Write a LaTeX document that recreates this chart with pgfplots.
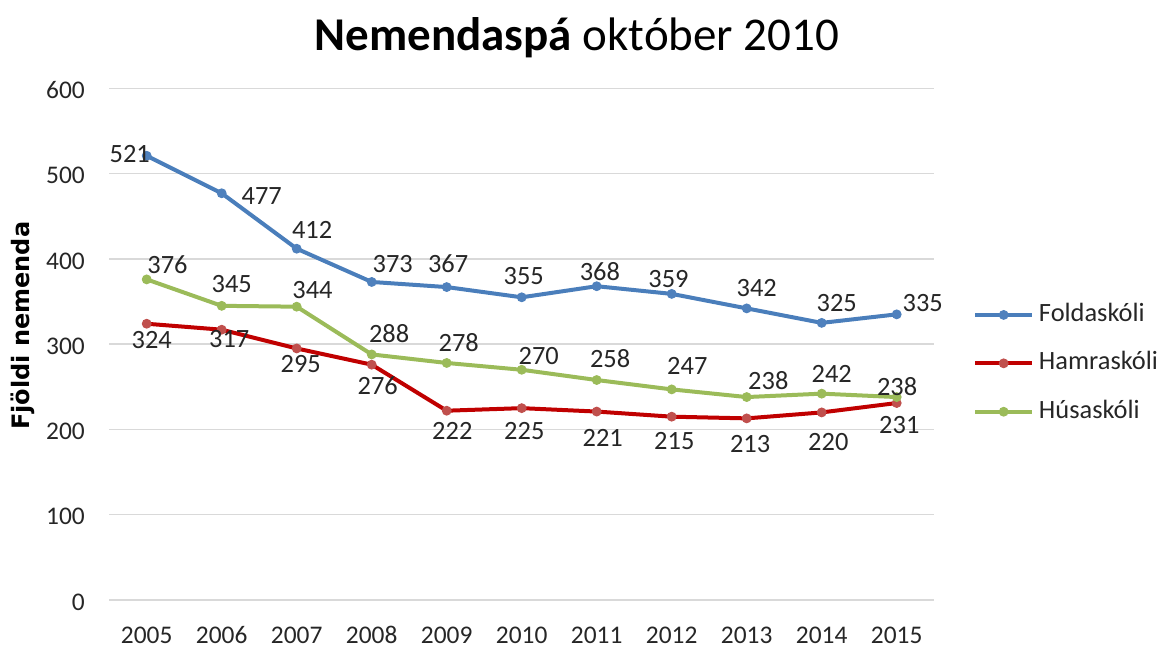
\documentclass[border=0pt]{standalone}
\usepackage{pgfplots}
\usepackage{pgfplotstable}
\pgfplotsset{compat=1.18}
\usepackage{fontspec}
\setmainfont{Carlito}
\newfontfamily\ylfont{DejaVu Sans}
\definecolor{cBlue}{HTML}{4A7EBB}
\definecolor{cBlueM}{HTML}{4F81BD}
\definecolor{cRed}{HTML}{C00000}
\definecolor{cRedM}{HTML}{C0504D}
\definecolor{cGreen}{HTML}{9BBB59}
\definecolor{gridgray}{HTML}{D9D9D9}
\definecolor{txt}{HTML}{262626}

\pgfplotstableread{
x y dx dy
2005 521 -8.5 1.1
2006 477 20 -1.5
2007 412 7.7 9.6
2008 373 10.5 9
2009 367 0.7 11.7
2010 355 1 10.6
2011 368 1.6 7.3
2012 359 -1.6 7.2
2013 342 5 10
2014 325 7.5 9.7
2015 335 13 5.5
}\fold

\pgfplotstableread{
x y dx dy
2005 324 2.5 -8.2
2006 317 3.8 -4.5
2007 295 2 -8
2008 276 3 -10.5
2009 222 2.8 -10
2010 225 1.3 -11.6
2011 221 3 -13.3
2012 215 1.3 -12
2013 213 1.7 -12.9
2014 220 3.3 -14.6
2015 231 1.3 -11.2
}\hamra

\pgfplotstableread{
x y dx dy
2005 376 10.4 7.5
2006 345 5 10.8
2007 344 7.9 8.3
2008 288 8.7 10.5
2009 278 6 10.3
2010 270 8.5 6.9
2011 258 6.7 10.8
2012 247 7.8 11.7
2013 238 10.8 8.4
2014 242 5 10
2015 238 0.2 5.2
}\husa

\begin{document}
\begin{tikzpicture}
\path[use as bounding box] (-54.6pt,-24pt) rectangle (526.4pt,300pt);
\begin{axis}[
  at={(0,0)}, anchor=south west,
  scale only axis, width=412.5pt, height=255.8pt,
  xmin=2004.5, xmax=2015.5, ymin=0, ymax=600,
  xtick={2005,2006,2007,2008,2009,2010,2011,2012,2013,2014,2015},
  xticklabels={2005,2006,2007,2008,2009,2010,2011,2012,2013,2014,2015},
  ytick={0,100,200,300,400,500,600},
  axis line style={draw=none},
  major tick length=0pt,
  ymajorgrids,
  grid style={color=gridgray, line width=0.75pt},
  tick label style={font=\fontsize{12.7}{15}\selectfont, text=txt},
  xticklabel style={anchor=center, inner sep=0pt, yshift=-17.5pt},
  yticklabel style={anchor=east, inner sep=0pt, xshift=-12pt, yshift=-1pt},
  /pgf/number format/assume math mode=true,
  ylabel={Fjöldi nemenda},
  every axis y label/.style={at={(axis description cs:-0.1047,0.536)}, rotate=90, anchor=center,
     font=\ylfont\bfseries\fontsize{12}{14}\selectfont, text=black},
  every axis title shift=0pt,
  title={\textbf{Nemendaspá} október 2010},
  title style={at={(axis description cs:0.567,1.075)}, anchor=base,
     font=\fontsize{23.5}{28}\selectfont, text=black},
  legend style={at={(axis description cs:1.047,0.4626)}, anchor=west, draw=none, fill=none,
     inner sep=0pt, font=\fontsize{13.2}{16}\selectfont, text=txt, row sep=11.7pt,
     nodes={inner sep=0pt, text height=9.5pt, text depth=3pt},
     /tikz/every odd column/.style={column sep=2.5pt}},
  legend cell align=left,
  legend image code/.code={\draw[mark repeat=2,mark phase=2,#1] plot coordinates {(0pt,0pt) (14.15pt,0pt) (28.3pt,0pt)};},
  clip=false,
  nodes near coords,
  visualization depends on={\thisrow{dx} \as \labdx},
  visualization depends on={\thisrow{dy} \as \labdy},
  nodes near coords style={anchor=center, inner sep=0pt, font=\fontsize{13.2}{16}\selectfont, text=txt,
     xshift=\labdx pt, yshift=\labdy pt},
]
\addplot[color=cBlue, line width=2pt, mark=*, mark size=2.2pt, mark options={fill=cBlueM, draw=cBlueM, line width=0.5pt}]
  table[x=x, y=y] {\fold};
\addlegendentry{Foldaskóli}
\addplot[color=cRed, line width=2pt, mark=*, mark size=2.2pt, mark options={fill=cRedM, draw=cRedM, line width=0.5pt}]
  table[x=x, y=y] {\hamra};
\addlegendentry{Hamraskóli}
\addplot[color=cGreen, line width=2pt, mark=*, mark size=2.2pt, mark options={fill=cGreen, draw=cGreen, line width=0.5pt}]
  table[x=x, y=y] {\husa};
\addlegendentry{Húsaskóli}
\end{axis}
\end{tikzpicture}
\end{document}
